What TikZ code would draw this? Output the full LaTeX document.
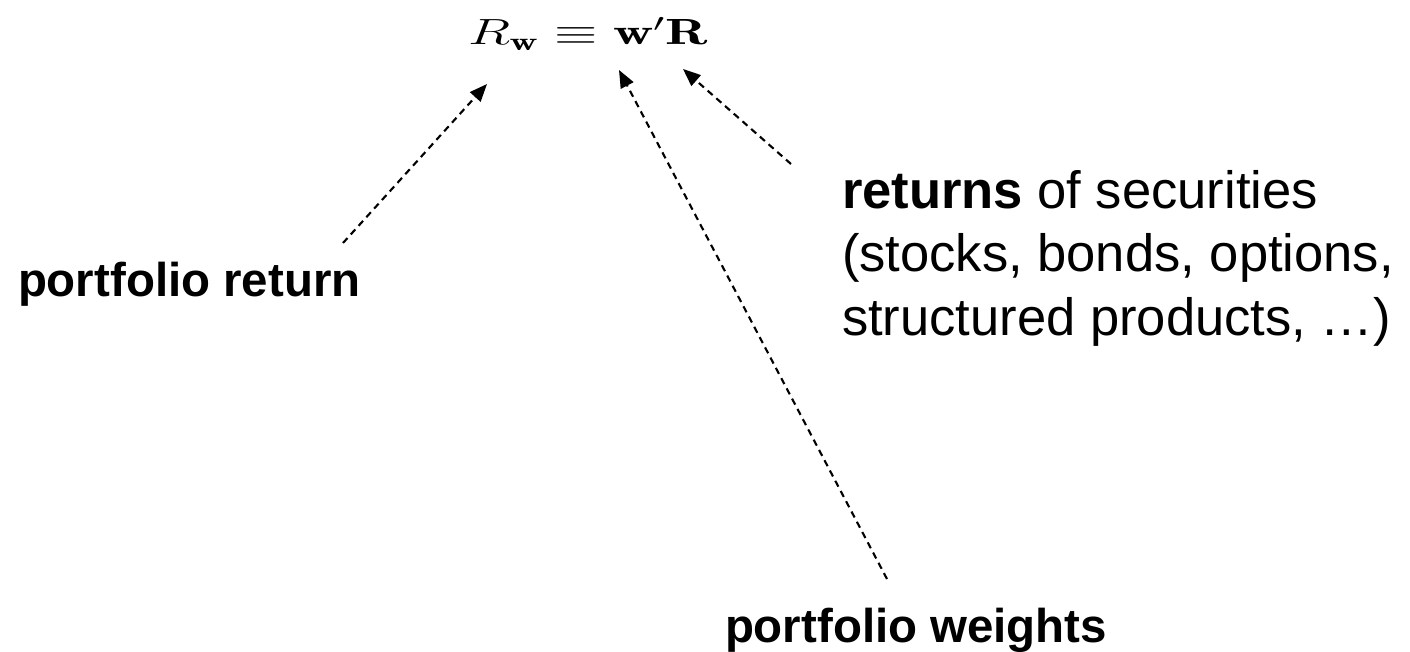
\documentclass[tikz,border=0pt]{standalone}
\usepackage{fontspec}
\usepackage{graphicx}
\newfontfamily\arialfont{Liberation Sans}
\usetikzlibrary{arrows.meta}
\begin{document}
\begin{tikzpicture}[x=0.02cm,y=-0.02cm,
  lbl/.style={inner sep=0pt,outer sep=0pt,anchor=base west,font=\arialfont\fontsize{27}{32}\selectfont\bfseries},
  rtxt/.style={inner sep=0pt,outer sep=0pt,anchor=base west,align=left,font=\arialfont\fontsize{29.9}{35.9}\selectfont},
  ptr/.style={line width=1.2pt,dash pattern=on 3.8pt off 2.8pt,-{Triangle[length=10pt,width=8pt]}}]
\useasboundingbox (0,0) rectangle (1410,652);
\node[inner sep=0pt,outer sep=0pt,anchor=base west] (eq) at (468,45)
  {\fontsize{20.74}{25}\selectfont\scalebox{1.53}[1]{$R_{\mathbf{w}}\equiv\mathbf{w}'\mathbf{R}$}};
\node[lbl] (pr) at (18,296) {portfolio return};
\node[lbl] (pw) at (725,642) {portfolio weights};
\node[rtxt] (rs) at (842,335) {\textbf{returns} of securities\\(stocks, bonds, options,\\structured products, \ldots)};
\coordinate (prT) at (343,243);
\coordinate (prH) at (487,84);
\coordinate (pwT) at (887,579);
\coordinate (pwH) at (619,70);
\coordinate (rsT) at (791,164);
\coordinate (rsH) at (683,69);
\draw[ptr] (prT) -- (prH);
\draw[ptr] (pwT) -- (pwH);
\draw[ptr] (rsT) -- (rsH);
\end{tikzpicture}
\end{document}
